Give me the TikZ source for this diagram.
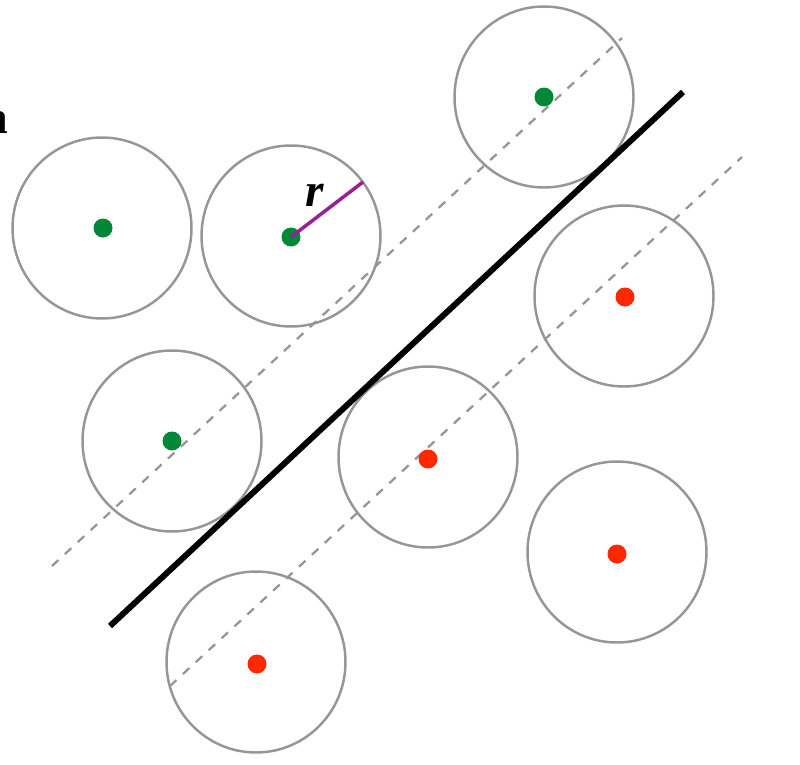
\documentclass[tikz,border=0pt]{standalone}
\usepackage{fontspec}
\setmainfont{Liberation Serif}
\definecolor{dotgreen}{RGB}{0,135,55}
\definecolor{dotred}{RGB}{255,40,0}
\definecolor{ringgray}{RGB}{150,150,150}
\definecolor{radpurple}{RGB}{150,35,150}
\begin{document}
\begin{tikzpicture}[x=0.02cm,y=-0.02cm,
  ring/.style={draw=ringgray, line width=1.4pt},
  guide/.style={draw=ringgray, dashed, line width=1.3pt, dash pattern=on 5pt off 5pt},
  dot/.style={circle, inner sep=0pt, minimum size=0.38cm},
  bigfont/.style={font=\fontsize{27}{32}\selectfont\bfseries, inner sep=0pt}]
  \useasboundingbox (0,0) rectangle (800,764);
  % margin lines
  \coordinate (up1) at (52,566);
  \coordinate (up2) at (622,38);
  \coordinate (lo1) at (170,686);
  \coordinate (lo2) at (742,157);
  \coordinate (sep1) at (110,626);
  \coordinate (sep2) at (683,92);
  \draw[guide] (up1) -- (up2);
  \draw[guide] (lo1) -- (lo2);
  % points with their circles
  \foreach \x/\y in {102/228, 291/236, 544/97, 172/441, 624/296, 428/457, 617/552, 256/662} {
    \draw[ring] (\x,\y) ellipse (1.79cm and 1.81cm);
  }
  \draw[line width=3.4pt] (sep1) -- (sep2);
  \foreach \n/\x/\y/\c in {g1/103/228/dotgreen, g2/291/237/dotgreen, g3/544/97/dotgreen, g4/172/441/dotgreen,
                          r1/625/297/dotred, r2/428/459/dotred, r3/617/554/dotred, r4/257/664/dotred} {
    \node[dot, fill=\c] (\n) at (\x,\y) {};
  }
  % radius
  \coordinate (rim) at (363,182);
  \draw[radpurple, line width=2pt] (g2.center) -- (rim);
  \node[bigfont, anchor=base west] (rlab) at (305,206) {\textit{r}};
  \node[bigfont, anchor=base east] (alab) at (9,133) {a};
\end{tikzpicture}
\end{document}
